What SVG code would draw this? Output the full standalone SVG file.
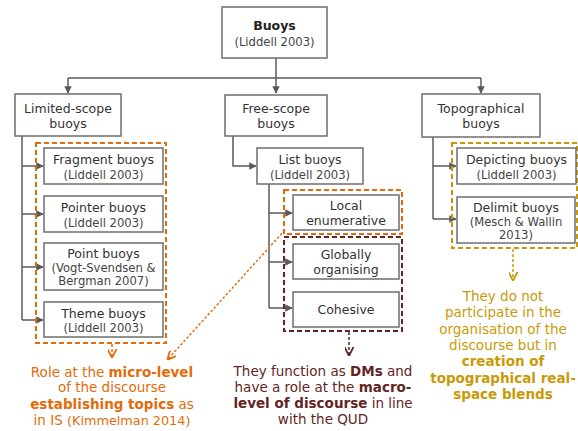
<svg xmlns="http://www.w3.org/2000/svg" width="578" height="431" viewBox="0 0 578 431">
<defs>
<marker id="ag" viewBox="0 0 10 10" refX="9" refY="5" markerWidth="5" markerHeight="5" orient="auto"><path d="M0,0 L10,5 L0,10 z" fill="#5a5a5a"/></marker>
<marker id="ao" viewBox="0 0 10 10" refX="9" refY="5" markerWidth="6" markerHeight="6" orient="auto"><path d="M0,0 L10,5 L0,10" fill="none" stroke="#E36C0A" stroke-width="2"/></marker>
<marker id="ar" viewBox="0 0 10 10" refX="9" refY="5" markerWidth="6" markerHeight="6" orient="auto"><path d="M0,0 L10,5 L0,10" fill="none" stroke="#632523" stroke-width="2"/></marker>
<marker id="ay" viewBox="0 0 10 10" refX="9" refY="5" markerWidth="6" markerHeight="6" orient="auto"><path d="M0,0 L10,5 L0,10" fill="none" stroke="#C99A06" stroke-width="2"/></marker>
</defs>
<style>
.box{fill:#fff;stroke:#6e6e6e;stroke-width:1.5}
.lbl{font-family:"DejaVu Sans",Verdana,sans-serif;font-size:12.5px;fill:#333;text-anchor:middle}
.cit{font-family:"DejaVu Sans",Verdana,sans-serif;font-size:11.6px;fill:#444;text-anchor:middle}
.con{fill:none;stroke:#5a5a5a;stroke-width:1.5}
.dash{fill:none;stroke-width:2;stroke-dasharray:5,3}
.note{font-family:"DejaVu Sans",Verdana,sans-serif;font-size:13.5px;text-anchor:middle}
</style>
<rect width="578" height="431" fill="#fff"/>
<g id="connectors">
<path class="con" d="M276,58 V93" marker-end="url(#ag)"/>
<path class="con" d="M68,78 H481"/>
<path class="con" d="M68,78 V93" marker-end="url(#ag)"/>
<path class="con" d="M481,78 V93" marker-end="url(#ag)"/>
<path class="con" d="M22,136 V320"/>
<path class="con" d="M22,166 H43" marker-end="url(#ag)"/>
<path class="con" d="M22,214 H43" marker-end="url(#ag)"/>
<path class="con" d="M22,267 H43" marker-end="url(#ag)"/>
<path class="con" d="M22,320 H43" marker-end="url(#ag)"/>
<path class="con" d="M233,136 V166 H256" marker-end="url(#ag)"/>
<path class="con" d="M269,184 V308"/>
<path class="con" d="M269,213 H292" marker-end="url(#ag)"/>
<path class="con" d="M269,262 H292" marker-end="url(#ag)"/>
<path class="con" d="M269,308 H292" marker-end="url(#ag)"/>
<path class="con" d="M433,137 V219"/>
<path class="con" d="M433,166 H456" marker-end="url(#ag)"/>
<path class="con" d="M433,219 H456" marker-end="url(#ag)"/>
<path d="M112,344 V357" fill="none" stroke="#E36C0A" stroke-width="1.5" stroke-dasharray="3,2" marker-end="url(#ao)"/>
<path d="M349,332 V355" fill="none" stroke="#632523" stroke-width="1.5" stroke-dasharray="3,2" marker-end="url(#ar)"/>
<path d="M513,249 V280" fill="none" stroke="#C99A06" stroke-width="1.5" stroke-dasharray="3,2" marker-end="url(#ay)"/>
<path d="M285,230 L168,359" fill="none" stroke="#E36C0A" stroke-width="1.5" stroke-dasharray="2.5,2" marker-end="url(#ao)"/>
</g>
<g id="buoys"><rect class="box" x="222" y="7" width="105" height="51"/>
<text class="lbl" x="274.5" y="30" font-weight="bold" style="fill:#222">Buoys</text>
<text class="cit" x="274.5" y="46">(Liddell 2003)</text></g>
<g id="limited"><rect class="box" x="15" y="94" width="106" height="42"/>
<text class="lbl" x="68" y="113">Limited-scope</text><text class="lbl" x="68" y="128">buoys</text></g>
<g id="free"><rect class="box" x="225" y="95" width="102" height="41"/>
<text class="lbl" x="276" y="113">Free-scope</text><text class="lbl" x="276" y="128">buoys</text></g>
<g id="topo"><rect class="box" x="422" y="94" width="118" height="43"/>
<text class="lbl" x="481" y="113">Topographical</text><text class="lbl" x="481" y="128">buoys</text></g>
<g id="limited-group"><rect class="dash" x="36" y="143" width="130" height="200" stroke="#E36C0A"/></g>
<g id="fragment"><rect class="box" x="44" y="148" width="119" height="36"/>
<text class="lbl" x="103.5" y="164">Fragment buoys</text><text class="cit" x="103.5" y="179">(Liddell 2003)</text></g>
<g id="pointer"><rect class="box" x="44" y="196" width="119" height="36"/>
<text class="lbl" x="103.5" y="212">Pointer buoys</text><text class="cit" x="103.5" y="227">(Liddell 2003)</text></g>
<g id="point"><rect class="box" x="44" y="243" width="119" height="47"/>
<text class="lbl" x="103.5" y="258">Point buoys</text><text class="cit" x="103.5" y="272">(Vogt-Svendsen &amp;</text><text class="cit" x="103.5" y="285">Bergman 2007)</text></g>
<g id="theme"><rect class="box" x="44" y="302" width="119" height="35"/>
<text class="lbl" x="103.5" y="318">Theme buoys</text><text class="cit" x="103.5" y="332">(Liddell 2003)</text></g>
<g id="list"><rect class="box" x="257" y="148" width="106" height="36"/>
<text class="lbl" x="310" y="164">List buoys</text><text class="cit" x="310" y="179">(Liddell 2003)</text></g>
<g id="local-group"><rect class="dash" x="284" y="190" width="118" height="44" stroke="#E36C0A"/></g>
<g id="macro-group"><rect class="dash" x="284" y="237" width="118" height="94" stroke="#632523"/></g>
<g id="local"><rect class="box" x="293" y="195" width="106" height="35"/>
<text class="lbl" x="346" y="210">Local</text><text class="lbl" x="346" y="225">enumerative</text></g>
<g id="globally"><rect class="box" x="293" y="244" width="106" height="35"/>
<text class="lbl" x="346" y="259">Globally</text><text class="lbl" x="346" y="274">organising</text></g>
<g id="cohesive"><rect class="box" x="293" y="292" width="106" height="35"/>
<text class="lbl" x="346" y="314">Cohesive</text></g>
<g id="topo-group"><rect class="dash" x="452" y="143" width="125" height="105" stroke="#C99A06"/></g>
<g id="depicting"><rect class="box" x="457" y="148" width="119" height="36"/>
<text class="lbl" x="516.5" y="164">Depicting buoys</text><text class="cit" x="516.5" y="179">(Liddell 2003)</text></g>
<g id="delimit"><rect class="box" x="457" y="197" width="118" height="46"/>
<text class="lbl" x="516" y="212">Delimit buoys</text><text class="cit" x="516" y="226">(Mesch &amp; Wallin</text><text class="cit" x="516" y="239">2013)</text></g>
<g id="note-micro" fill="#E36C0A">
<text class="note" x="112" y="377">Role at the <tspan font-weight="bold">micro-level</tspan></text>
<text class="note" x="112" y="392">of the discourse</text>
<text class="note" x="112" y="409"><tspan font-weight="bold">establishing topics</tspan> as</text>
<text class="note" x="112" y="425">in IS <tspan font-size="12.8px">(Kimmelman 2014)</tspan></text>
</g>
<g id="note-macro" fill="#632523">
<text class="note" x="323" y="376">They function as <tspan font-weight="bold">DMs</tspan> and</text>
<text class="note" x="323" y="392">have a role at the <tspan font-weight="bold">macro-</tspan></text>
<text class="note" x="323" y="408"><tspan font-weight="bold">level of discourse</tspan> in line</text>
<text class="note" x="323" y="424">with the QUD</text>
</g>
<g id="note-topo" fill="#C99A06">
<text class="note" x="503" y="301">They do not</text>
<text class="note" x="503" y="317">participate in the</text>
<text class="note" x="503" y="334">organisation of the</text>
<text class="note" x="503" y="350">discourse but in</text>
<text class="note" x="503" y="366" font-weight="bold">creation of</text>
<text class="note" x="503" y="383" font-weight="bold">topographical real-</text>
<text class="note" x="503" y="399" font-weight="bold">space blends</text>
</g>
</svg>
